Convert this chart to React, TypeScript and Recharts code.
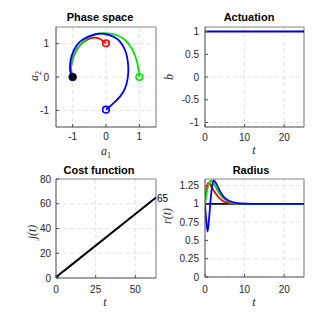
import React from "react";
import {
  LineChart,
  Line,
  XAxis,
  YAxis,
  CartesianGrid,
  ReferenceLine,
  ReferenceDot,
} from "recharts";

// phase space trajectories (a1, a2)
const redA1 = [0, -0.18, -0.38, -0.58, -0.76, -0.92, -1.02, -1.05, -1.0];
const redA2 = [1.01, 1.14, 1.18, 1.11, 0.97, 0.74, 0.46, 0.2, 0];
const greenA1 = [1, 0.97, 0.9, 0.77, 0.57, 0.32, 0.07, -0.18, -0.42, -0.64, -0.84, -0.98, -1.05, -1.06, -1.0];
const greenA2 = [0, 0.26, 0.56, 0.86, 1.11, 1.26, 1.31, 1.31, 1.24, 1.1, 0.88, 0.6, 0.32, 0.12, 0];
const blueA1 = [0, 0.22, 0.42, 0.57, 0.65, 0.67, 0.64, 0.57, 0.42, 0.22, -0.03, -0.28, -0.53, -0.78, -0.96, -1.06, -1.08, -1.05, -1.0];
const blueA2 = [-0.98, -0.79, -0.59, -0.34, -0.04, 0.26, 0.56, 0.81, 1.06, 1.21, 1.29, 1.29, 1.21, 1.06, 0.81, 0.51, 0.24, 0.1, 0];
const phaseTicks = [-1, 0, 1];

// actuation
const actT = [0, 25];
const actB = [1, 1];
const actYTicks = [-1, -0.5, 0, 0.5, 1];
const tTicks = [0, 10, 20];

// cost function
const costT = [0, 1, 3, 6, 63];
const costJ = [0, 1.6, 3.9, 6.8, 65];
const costXTicks = [0, 25, 50];
const costYTicks = [0, 20, 40, 60, 80];

// radius
const blackT = [0, 25];
const blackR = [1, 1];
const redT = [0, 0.3, 0.6, 0.9, 1.3, 1.75, 2.6, 3.4, 4.65, 6.3, 8, 25];
const redR = [1, 1.18, 1.26, 1.29, 1.27, 1.22, 1.15, 1.09, 1.036, 1.01, 1.0, 1.0];
const greenT = [0, 0.4, 0.8, 1.2, 1.5, 1.9, 2.6, 3.4, 4.3, 5.5, 6.8, 9, 25];
const greenR = [1, 1.14, 1.25, 1.3, 1.32, 1.3, 1.24, 1.16, 1.095, 1.045, 1.014, 1.0, 1.0];
const blueT = [0, 0.3, 0.65, 1.0, 1.33, 1.7, 2.15, 3, 3.8, 4.65, 5.5, 7.2, 9, 12, 25];
const blueR = [1, 0.78, 0.62, 0.78, 1.0, 1.2, 1.32, 1.26, 1.17, 1.1, 1.06, 1.02, 1.005, 1.0, 1.0];
const radYTicks = [0, 0.25, 0.5, 0.75, 1, 1.25];

const zip = (xs: number[], ys: number[]) => xs.map((x, i) => ({ x, y: ys[i] }));

const SANS = "'Liberation Sans', Arial, sans-serif";
const SERIF = "'Liberation Serif', 'DejaVu Serif', serif";
const tickStyle = { fill: "#262626", fontSize: 10, fontFamily: SANS };
const RED = "#ff0000";
const GREEN = "#00e600";
const BLUE = "#0000ff";

function Box({ left, top, children }: { left: number; top: number; children: React.ReactNode }) {
  return <div style={{ position: "absolute", left, top }}>{children}</div>;
}

export default function App() {
  return (
    <div style={{ position: "absolute", left: 0, top: 0, width: 336, height: 320, background: "#fff" }}>
      {/* Phase space */}
      <Box left={0} top={0}>
        <LineChart width={168} height={160} margin={{ top: 27, right: 12, bottom: 0, left: 0 }}>
          <CartesianGrid stroke="#e3e3e3" strokeDasharray="4 3" />
          <XAxis type="number" dataKey="x" domain={[-1.5, 1.5]} ticks={phaseTicks} allowDataOverflow
            height={33} tick={tickStyle} tickSize={-3} tickMargin={9} stroke="#4d4d4d" />
          <YAxis type="number" dataKey="y" domain={[-1.5, 1.5]} ticks={phaseTicks} allowDataOverflow
            width={56} tick={tickStyle} tickSize={-3} tickMargin={10} stroke="#4d4d4d" />
          <ReferenceLine y={1.5} stroke="#8c8c8c" />
          <ReferenceLine x={1.5} stroke="#a6a6a6" strokeWidth={1.5} />
          <Line data={zip(redA1, redA2)} dataKey="y" type="natural" stroke={RED} strokeWidth={1.8} dot={false} isAnimationActive={false} />
          <Line data={zip(greenA1, greenA2)} dataKey="y" type="natural" stroke={GREEN} strokeWidth={1.8} dot={false} isAnimationActive={false} />
          <Line data={zip(blueA1, blueA2)} dataKey="y" type="natural" stroke={BLUE} strokeWidth={1.8} dot={false} isAnimationActive={false} />
          <ReferenceDot x={redA1[0]} y={redA2[0]} r={3.3} fill="none" stroke={RED} strokeWidth={1.6} />
          <ReferenceDot x={greenA1[0]} y={greenA2[0]} r={3.3} fill="none" stroke={GREEN} strokeWidth={1.6} />
          <ReferenceDot x={blueA1[0]} y={blueA2[0]} r={3.3} fill="none" stroke={BLUE} strokeWidth={1.6} />
          <ReferenceDot x={-1} y={0} r={3.8} fill="#000" stroke="#00008b" strokeWidth={1} />
        </LineChart>
      </Box>

      {/* Actuation */}
      <Box left={168} top={0}>
        <LineChart width={168} height={160} margin={{ top: 27, right: 32, bottom: 0, left: 0 }}>
          <CartesianGrid stroke="#e3e3e3" strokeDasharray="4 3" />
          <XAxis type="number" dataKey="x" domain={[0, 25]} ticks={tTicks} allowDataOverflow
            height={33} tick={tickStyle} tickSize={-3} tickMargin={9.5} stroke="#4d4d4d" />
          <YAxis type="number" dataKey="y" domain={[-1.1, 1.1]} ticks={actYTicks} allowDataOverflow
            width={37} tick={tickStyle} tickSize={-3} tickMargin={9} stroke="#4d4d4d" />
          <ReferenceLine y={1.1} stroke="#8c8c8c" />
          <ReferenceLine x={25} stroke="#a6a6a6" strokeWidth={1.5} />
          <Line data={zip(actT, actB)} dataKey="y" type="linear" stroke="#0000d0" strokeWidth={2} dot={false} isAnimationActive={false} />
        </LineChart>
      </Box>

      {/* Cost function */}
      <Box left={0} top={160}>
        <LineChart width={168} height={160} margin={{ top: 19, right: 12, bottom: 0, left: 0 }}>
          <CartesianGrid stroke="#e3e3e3" strokeDasharray="4 3" />
          <XAxis type="number" dataKey="x" domain={[0, 63]} ticks={costXTicks} allowDataOverflow
            height={42} tick={tickStyle} tickSize={-3} tickMargin={11} stroke="#4d4d4d" />
          <YAxis type="number" dataKey="y" domain={[0, 80]} ticks={costYTicks} allowDataOverflow
            width={56} tick={tickStyle} tickSize={-3} tickMargin={8} stroke="#4d4d4d" />
          <ReferenceLine y={80} stroke="#8c8c8c" />
          <ReferenceLine x={63} stroke="#a6a6a6" strokeWidth={1.5} />
          <Line
            data={zip(costT, costJ)}
            dataKey="y"
            type="linear"
            stroke="#000"
            strokeWidth={2}
            dot={false}
            isAnimationActive={false}
            label={(p: any) =>
              p.index === costT.length - 1 ? (
                <text key="end" x={p.x + 1} y={p.y + 4} fontSize={10} fontFamily={SANS} fill="#000">
                  {costJ[costJ.length - 1]}
                </text>
              ) : null
            }
          />
        </LineChart>
      </Box>

      {/* Radius */}
      <Box left={168} top={160}>
        <LineChart width={168} height={160} margin={{ top: 19, right: 32, bottom: 0, left: 0 }}>
          <CartesianGrid stroke="#e3e3e3" strokeDasharray="4 3" />
          <XAxis type="number" dataKey="x" domain={[0, 25]} ticks={tTicks} allowDataOverflow
            height={43} tick={tickStyle} tickSize={-3} tickMargin={12} stroke="#4d4d4d" />
          <YAxis type="number" dataKey="y" domain={[0, 1.34]} ticks={radYTicks} allowDataOverflow
            width={37} tick={tickStyle} tickSize={-3} tickMargin={9} stroke="#4d4d4d" />
          <ReferenceLine y={1.34} stroke="#8c8c8c" />
          <ReferenceLine x={25} stroke="#a6a6a6" strokeWidth={1.5} />
          <Line data={zip(blackT, blackR)} dataKey="y" type="linear" stroke="#000" strokeWidth={1.8} dot={false} isAnimationActive={false} />
          <Line data={zip(redT, redR)} dataKey="y" type="monotone" stroke={RED} strokeWidth={1.8} dot={false} isAnimationActive={false} />
          <Line data={zip(greenT, greenR)} dataKey="y" type="monotone" stroke={GREEN} strokeWidth={1.8} dot={false} isAnimationActive={false} />
          <Line data={zip(blueT, blueR)} dataKey="y" type="monotone" stroke={BLUE} strokeWidth={1.8} dot={false} isAnimationActive={false} />
        </LineChart>
      </Box>

      {/* titles and axis labels */}
      <svg width={336} height={320} style={{ position: "absolute", left: 0, top: 0, pointerEvents: "none" }}>
        <g fontFamily={SANS} fontWeight="bold" fontSize={11} fill="#000" textAnchor="middle">
          <text x={100} y={21}>Phase space</text>
          <text x={249} y={21}>Actuation</text>
          <text x={99} y={174}>Cost function</text>
          <text x={251} y={174}>Radius</text>
        </g>
        <g fontFamily={SERIF} fontStyle="italic" fontSize={12} fill="#262626" textAnchor="middle">
          <text x={106} y={155}>
            a<tspan fontSize={8} fontStyle="normal" dy={2.5}>1</tspan>
          </text>
          <text transform="translate(38,76) rotate(-90)">
            a<tspan fontSize={8} fontStyle="normal" dy={2.5}>2</tspan>
          </text>
          <text x={254} y={154}>t</text>
          <text transform="translate(173,77) rotate(-90)">b</text>
          <text x={105} y={305.5}>t</text>
          <text transform="translate(36,232) rotate(-90)">j(t)</text>
          <text x={254} y={306}>t</text>
          <text transform="translate(171,216) rotate(-90)">r(t)</text>
        </g>
      </svg>
    </div>
  );
}
